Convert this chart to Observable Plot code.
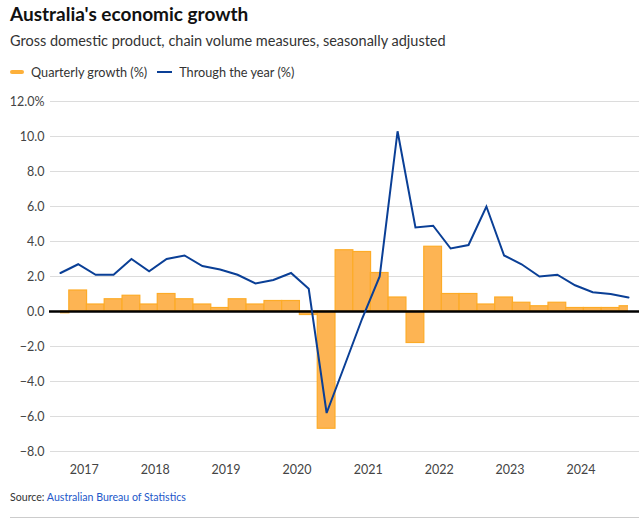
<!DOCTYPE html>
<html>
<head>
<meta charset="utf-8">
<script src="https://cdn.jsdelivr.net/npm/d3@7"></script>
<script src="https://cdn.jsdelivr.net/npm/@observablehq/plot@0.6"></script>
<style>
  body { margin: 0; background: #fff; }
  #wrap { position: relative; width: 639px; height: 525px; font-family: Lato, "Noto Sans", sans-serif; color: #222; overflow: hidden; }
  .title { position: absolute; left: 10px; top: 2px; font-size: 19px; font-weight: 700; color: #111; white-space: nowrap; }
  .subtitle { position: absolute; left: 10px; top: 32px; font-size: 14.5px; color: #333; white-space: nowrap; }
  .legend { position: absolute; left: 10px; top: 64px; font-size: 12.7px; color: #333; display: flex; align-items: center; white-space: nowrap; }
  .sw { display: inline-block; margin-right: 7px; }
  .sw.bar { width: 14px; height: 4px; border-radius: 2px; background: #fdb03a; }
  .sw.line { width: 15px; height: 2.5px; background: #0a3f96; margin-left: 10px; }
  #chart { position: absolute; left: 0; top: 88px; }
  .source { position: absolute; left: 10px; top: 491px; font-size: 10.6px; color: #333; white-space: nowrap; }
  .source a { color: #2257c9; text-decoration: none; }
  .rule { position: absolute; left: 10px; right: 0; top: 517px; height: 1px; background: #ccc; }
</style>
</head>
<body>
<div id="wrap">
  <div class="title">Australia's economic growth</div>
  <div class="subtitle">Gross domestic product, chain volume measures, seasonally adjusted</div>
  <div class="legend"><span class="sw bar"></span><span>Quarterly growth (%)</span><span class="sw line"></span><span>Through the year (%)</span></div>
  <div id="chart"></div>
  <div class="source">Source: <a>Australian Bureau of Statistics</a></div>
  <div class="rule"></div>
</div>
<script>
const quarters = [
  "2016-09","2016-12","2017-03","2017-06","2017-09","2017-12","2018-03","2018-06",
  "2018-09","2018-12","2019-03","2019-06","2019-09","2019-12","2020-03","2020-06",
  "2020-09","2020-12","2021-03","2021-06","2021-09","2021-12","2022-03","2022-06",
  "2022-09","2022-12","2023-03","2023-06","2023-09","2023-12","2024-03","2024-06","2024-09"
];
const quarterlyGrowth = [
  -0.1, 1.2, 0.4, 0.7, 0.9, 0.4, 1.0, 0.7,
  0.4, 0.2, 0.7, 0.4, 0.6, 0.6, -0.2, -6.7,
  3.5, 3.4, 2.2, 0.8, -1.8, 3.7, 1.0, 1.0,
  0.4, 0.8, 0.5, 0.3, 0.5, 0.2, 0.2, 0.2, 0.3
];
const throughTheYear = [
  2.2, 2.7, 2.1, 2.1, 3.0, 2.3, 3.0, 3.2,
  2.6, 2.4, 2.1, 1.6, 1.8, 2.2, 1.3, -5.8,
  -3.1, -0.4, 2.0, 10.3, 4.8, 4.9, 3.6, 3.8,
  6.0, 3.2, 2.7, 2.0, 2.1, 1.5, 1.1, 1.0, 0.8
];
const yearTicks = [2017, 2018, 2019, 2020, 2021, 2022, 2023, 2024];
const yTicks = [-8, -6, -4, -2, 0, 2, 4, 6, 8, 10, 12];

const parse = d3.utcParse("%Y-%m");
const halfQuarter = 365.25 / 8 * 864e5;
const data = quarters.map((q, i) => {
  const date = parse(q);
  return {
    date,
    x1: new Date(+date - halfQuarter),
    x2: new Date(+date + halfQuarter),
    q: quarterlyGrowth[i],
    tty: throughTheYear[i]
  };
});
const fmt = d3.format(".1f");

const chart = Plot.plot({
  width: 639,
  height: 395,
  marginLeft: 60,
  marginRight: 11,
  marginTop: 13,
  marginBottom: 32,
  style: { fontFamily: "Lato, 'Noto Sans', sans-serif", fontSize: "12.5px", color: "#444", background: "transparent" },
  x: { type: "utc", domain: [data[0].date, data[data.length - 1].date] },
  y: { domain: [-8, 12] },
  marks: [
    Plot.ruleY(yTicks.filter(d => d !== 0), { stroke: "#dcdcdc", strokeWidth: 1, insetLeft: -10, insetRight: -11 }),
    Plot.rectY(data, { x1: "x1", x2: "x2", y1: 0, y2: "q", fill: "#fdb453", stroke: "#fdab27", strokeWidth: 1.2, clip: true }),
    Plot.ruleY([0], { stroke: "#000", strokeWidth: 2.5, insetLeft: -11, insetRight: -11 }),
    Plot.line(data, { x: "date", y: "tty", stroke: "#0a3f96", strokeWidth: 2, strokeLinejoin: "miter", strokeMiterlimit: 4 }),
    Plot.axisY({ ticks: yTicks, tickSize: 0, tickPadding: 16, label: null,
      tickFormat: d => d === 12 ? fmt(d) + "%" : fmt(d) }),
    Plot.axisX({ ticks: yearTicks.map(y => new Date(Date.UTC(y, 0, 1))), tickSize: 0, tickPadding: 14, label: null,
      tickFormat: d3.utcFormat("%Y") })
  ]
});
document.getElementById("chart").appendChild(chart);
</script>
</body>
</html>
